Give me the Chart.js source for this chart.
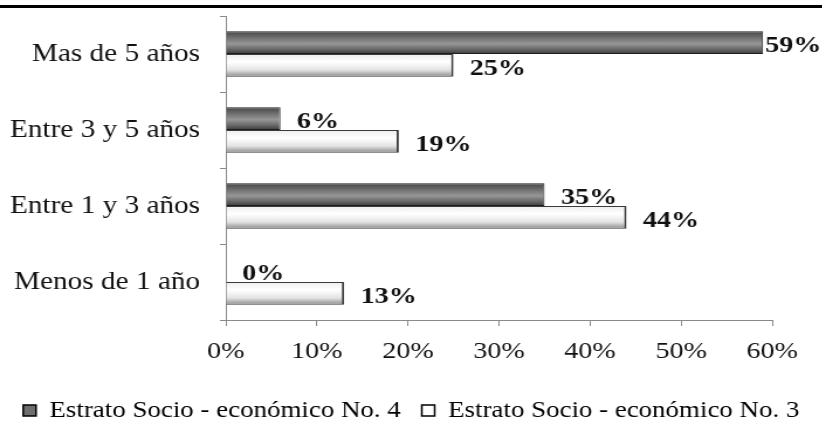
<!DOCTYPE html>
<html lang="es">
<head>
<meta charset="utf-8">
<title>Tiempo por estrato socioeconómico</title>
<script src="https://cdn.jsdelivr.net/npm/chart.js@4.4.1/dist/chart.umd.min.js"></script>
<style>
  html, body { margin: 0; padding: 0; background: #fff; }
  body { width: 822px; height: 432px; position: relative; overflow: hidden; }
  .linea-superior { position: absolute; left: 0; top: 5px; width: 822px; height: 3px; background: #000; }
  /* el grafico se dibuja algo mas angosto y se estira a lo ancho */
  .contenedor { position: absolute; left: 0; top: 0; width: 703px; height: 432px;
                transform: scaleX(1.17); transform-origin: 0 0; }
</style>
</head>
<body>
<div class="linea-superior"></div>
<div class="contenedor"><canvas id="graficoEstratos"></canvas></div>
<script>
  // Datos del grafico
  const categorias = ["Mas de 5 años", "Entre 3 y 5 años", "Entre 1 y 3 años", "Menos de 1 año"];
  const estrato4 = [59, 6, 35, 0];
  const estrato3 = [25, 19, 44, 13];
  const nombresSeries = ["Estrato Socio - económico No. 4", "Estrato Socio - económico No. 3"];
  const ticksPorcentaje = [0, 10, 20, 30, 40, 50, 60];

  const fuente = '"Liberation Serif", "Times New Roman", serif';

  // Degradados verticales de cada barra (efecto cilindro)
  const degradadoBarras = {
    id: "degradadoBarras",
    beforeDatasetsDraw(chart) {
      const ctx = chart.ctx;
      chart.data.datasets.forEach((ds, i) => {
        chart.getDatasetMeta(i).data.forEach((bar) => {
          const y0 = bar.y - bar.height / 2;
          const y1 = bar.y + bar.height / 2;
          const g = ctx.createLinearGradient(0, y0, 0, y1);
          if (i === 0) {
            g.addColorStop(0, "#454545");
            g.addColorStop(0.25, "#6a6a6a");
            g.addColorStop(0.55, "#979797");
            g.addColorStop(0.8, "#676767");
            g.addColorStop(1, "#3a3a3a");
          } else {
            g.addColorStop(0, "#eeeeee");
            g.addColorStop(0.35, "#ffffff");
            g.addColorStop(0.7, "#e4e4e4");
            g.addColorStop(1, "#8a8a8a");
          }
          bar.options.backgroundColor = g;
        });
      });
    }
  };

  // Etiquetas de valor al final de cada barra
  const etiquetasValor = {
    id: "etiquetasValor",
    afterDatasetsDraw(chart) {
      const ctx = chart.ctx;
      ctx.save();
      ctx.font = "bold 24px " + fuente;
      ctx.fillStyle = "#111";
      ctx.textBaseline = "middle";
      ctx.textAlign = "left";
      chart.data.datasets.forEach((ds, i) => {
        chart.getDatasetMeta(i).data.forEach((bar, j) => {
          const texto = ds.data[j] + "%";
          const ancho = ctx.measureText(texto).width;
          const x = Math.min(bar.x + 14, chart.width - ancho - 1);
          ctx.fillText(texto, x, bar.y + 3);
        });
      });
      ctx.restore();
    }
  };

  const ctxEstratos = document.getElementById("graficoEstratos").getContext("2d");
  new Chart(ctxEstratos, {
    type: "bar",
    data: {
      labels: categorias,
      datasets: [
        {
          label: nombresSeries[0],
          data: estrato4,
          // funcion para que cada barra tenga sus propias opciones
          backgroundColor: () => "#6e6e6e",
          borderColor: "#1e1e1e",
          borderWidth: 1,
          categoryPercentage: 0.6,
          barPercentage: 1
        },
        {
          label: nombresSeries[1],
          data: estrato3,
          backgroundColor: () => "#ffffff",
          borderColor: "#3a3a3a",
          borderWidth: { top: 1, right: 2, bottom: 1, left: 0 },
          categoryPercentage: 0.6,
          barPercentage: 1
        }
      ]
    },
    options: {
      indexAxis: "y",
      responsive: true,
      maintainAspectRatio: false,
      animation: false,
      layout: { padding: { top: 16, right: 0, bottom: 0, left: 0 } },
      scales: {
        x: {
          min: 0,
          max: 60,
          afterBuildTicks(scale) {
            scale.ticks = ticksPorcentaje.map((v) => ({ value: v }));
          },
          afterFit(scale) {
            scale.height = 61;
            scale.paddingRight = 43;
          },
          ticks: {
            callback: (v) => v + "%",
            color: "#111",
            padding: 11,
            font: { family: fuente, size: 24 }
          },
          grid: { drawOnChartArea: false, drawTicks: true, tickLength: 6, color: "#8a8a8a" },
          border: { color: "#8a8a8a", width: 1 }
        },
        y: {
          afterFit(scale) {
            scale.width = 193;
            scale.paddingTop = 0;
            scale.paddingBottom = 0;
          },
          ticks: {
            color: "#111",
            padding: 17,
            font: { family: fuente, size: 25 }
          },
          grid: { offset: true, drawOnChartArea: false, drawTicks: true, tickLength: 5, color: "#8a8a8a" },
          border: { color: "#8a8a8a", width: 1 }
        }
      },
      plugins: {
        tooltip: { enabled: false },
        legend: {
          position: "bottom",
          labels: {
            boxWidth: 11,
            boxHeight: 11,
            padding: 18,
            color: "#111",
            font: { family: fuente, size: 23 },
            generateLabels(chart) {
              return chart.data.datasets.map((ds, i) => ({
                text: ds.label,
                fillStyle: i === 0 ? "#6e6e6e" : "#ffffff",
                strokeStyle: "#000",
                lineWidth: 1.5,
                datasetIndex: i,
                hidden: false
              }));
            }
          }
        }
      }
    },
    plugins: [degradadoBarras, etiquetasValor]
  });
</script>
</body>
</html>
